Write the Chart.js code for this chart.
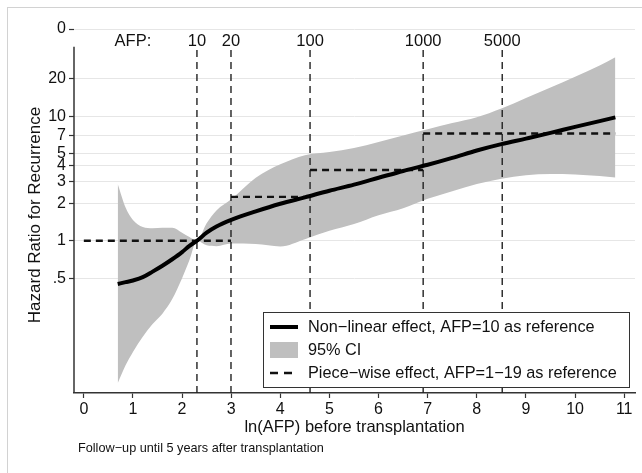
<!DOCTYPE html>
<html><head><meta charset="utf-8">
<script src="https://cdn.jsdelivr.net/npm/chart.js@4"></script>
<style>
html,body{margin:0;padding:0;background:#fff;}
#wrap{position:relative;width:642px;height:473px;overflow:hidden;}
#frame{position:absolute;left:7px;top:7px;width:700px;height:600px;border:1px solid #d2d2d2;pointer-events:none;}
canvas{display:block;}
</style></head><body>
<div id="wrap"><canvas id="c" width="642" height="473"></canvas><div id="frame"></div></div>
<script>
// ---- data ----
const lnAFP   = [0.69,0.85,1.0,1.2,1.4,1.6,1.8,2.0,2.15,2.303,2.5,2.7,3.0,3.5,4.0,4.5,5.0,5.5,6.0,6.5,7.0,7.5,8.0,8.5,9.0,9.5,10.0,10.5,10.82];
const hrCurve = [0.45,0.465,0.48,0.51,0.565,0.63,0.71,0.81,0.91,1.0,1.16,1.3,1.47,1.72,1.98,2.23,2.52,2.82,3.2,3.63,4.07,4.62,5.3,5.96,6.6,7.33,8.2,9.12,9.77];
const ciUpper = [2.85,1.85,1.47,1.29,1.26,1.27,1.27,1.16,1.07,1.0,1.38,1.75,2.15,3.2,4.1,4.85,5.15,5.55,6.2,7.0,7.85,8.8,9.8,11.5,14.0,17.0,20.7,25.5,29.7];
const ciLower = [0.072,0.1,0.128,0.17,0.215,0.26,0.34,0.5,0.7,1.0,0.92,0.905,0.95,0.94,0.9,1.03,1.2,1.36,1.6,1.82,2.17,2.5,2.85,3.15,3.35,3.43,3.4,3.3,3.22];
const pieceBreaks = [0, Math.log(20), Math.log(100), Math.log(1000), 10.82];
const pieceHR     = [1, 2.25, 3.69, 7.26];
const afpMarks    = [10, 20, 100, 1000, 5000];
const xTicks      = [0,1,2,3,4,5,6,7,8,9,10,11];
const yTicks      = [50,20,10,7,5,4,3,2,1,0.5];
const yTickLabels = ['0','20','10','7','5','4','3','2','1','.5'];
const legendLabels = ['Non\u2212linear effect, AFP=10 as reference','95% CI','Piece\u2212wise effect, AFP=1\u221219 as reference'];
const xTitle = 'ln(AFP) before transplantation';
const yTitle = 'Hazard Ratio for Recurrence';
const noteText = 'Follow\u2212up until 5 years after transplantation';
const afpPrefix = 'AFP:';
const Y_MIN = 0.06, Y_MAX = 50, VLINE_TOP = 36, X_MIN = -0.2, X_MAX = 11.22, AFP_PREFIX_X = 1.0;

const FONT = '"Liberation Sans", Arial, Helvetica, sans-serif';
const pts = ys => lnAFP.map((x,i)=>({x, y: ys[i]}));

const datasets = [];
datasets.push({label:'upper', data: pts(ciUpper), borderWidth:0, pointRadius:0, backgroundColor:'#bfbfbf', fill:'+1', tension:0.4, cubicInterpolationMode:'monotone', order:10});
datasets.push({label:'lower', data: pts(ciLower), borderWidth:0, pointRadius:0, backgroundColor:'#bfbfbf', fill:false, tension:0.4, cubicInterpolationMode:'monotone', order:9});
afpMarks.forEach(v=>{
  datasets.push({label:'v'+v, data:[{x:Math.log(v), y:Y_MIN},{x:Math.log(v), y:VLINE_TOP}], borderColor:'#222', borderWidth:1.4, borderDash:[7,5], pointRadius:0, fill:false, order:8});
});
pieceHR.forEach((h,i)=>{
  datasets.push({label:'p'+i, data:[{x:pieceBreaks[i], y:h},{x:pieceBreaks[i+1], y:h}], borderColor:'#111', borderWidth:2.4, borderDash:[7,5], pointRadius:0, fill:false, order:3});
});
datasets.push({label:'curve', data: pts(hrCurve), borderColor:'#000', borderWidth:4, pointRadius:0, fill:false, tension:0.4, cubicInterpolationMode:'monotone', order:1});

const textPlugin = {
  id:'texts',
  afterDraw(chart){
    const ctx = chart.ctx, ca = chart.chartArea, xs = chart.scales.x, ys = chart.scales.y;
    ctx.save();
    // y axis line
    ctx.strokeStyle = '#333'; ctx.lineWidth = 1.5;
    ctx.beginPath();
    ctx.moveTo(ca.left, ys.getPixelForValue(VLINE_TOP));
    ctx.lineTo(ca.left, ca.bottom);
    ctx.stroke();
    // AFP labels
    ctx.fillStyle = '#111';
    ctx.font = '16.5px ' + FONT;
    ctx.textAlign = 'center'; ctx.textBaseline = 'middle';
    const ly = (ys.getPixelForValue(VLINE_TOP) + ca.top) / 2 + 4;
    ctx.fillText(afpPrefix, xs.getPixelForValue(AFP_PREFIX_X), ly);
    afpMarks.forEach(v=> ctx.fillText(String(v), xs.getPixelForValue(Math.log(v)), ly));
    // axis titles
    ctx.font = '16.5px ' + FONT;
    ctx.fillText(xTitle, (ca.left+ca.right)/2, ca.bottom + 34);
    ctx.save();
    ctx.font = '17px ' + FONT;
    ctx.translate(35, (ca.top+ca.bottom)/2 + 4);
    ctx.rotate(-Math.PI/2);
    ctx.fillText(yTitle, 0, 0);
    ctx.restore();
    // note
    ctx.font = '12.7px ' + FONT;
    ctx.textAlign = 'left';
    ctx.fillText(noteText, ca.left + 4, ca.bottom + 55);
    // legend
    const bw = 366, bh = 75;
    const bx = ca.right - 6 - bw, by = ca.bottom - 6 - bh;
    ctx.fillStyle = '#fff';
    ctx.fillRect(bx, by, bw, bh);
    ctx.strokeStyle = '#333'; ctx.lineWidth = 1;
    ctx.strokeRect(bx+0.5, by+0.5, bw, bh);
    const rows = [15, 38, 61];
    const sx0 = bx + 7, sx1 = bx + 35;
    ctx.strokeStyle = '#000'; ctx.lineWidth = 4; ctx.setLineDash([]);
    ctx.beginPath(); ctx.moveTo(sx0, by+rows[0]); ctx.lineTo(sx1, by+rows[0]); ctx.stroke();
    ctx.fillStyle = '#bfbfbf';
    ctx.fillRect(sx0, by+rows[1]-8, sx1-sx0, 16);
    ctx.strokeStyle = '#111'; ctx.lineWidth = 2.4; ctx.setLineDash([8,6]);
    ctx.beginPath(); ctx.moveTo(sx0, by+rows[2]); ctx.lineTo(sx1, by+rows[2]); ctx.stroke();
    ctx.setLineDash([]);
    ctx.fillStyle = '#111';
    ctx.font = '16.3px ' + FONT;
    ctx.textAlign = 'left'; ctx.textBaseline = 'middle';
    legendLabels.forEach((t,i)=> ctx.fillText(t, bx + 45, by + rows[i] + 1));
    ctx.restore();
  }
};

new Chart(document.getElementById('c'), {
  type:'line',
  data:{datasets},
  options:{
    responsive:false, animation:false, devicePixelRatio:1,
    layout:{padding:{top:29, right:7, left:0, bottom:0}},
    plugins:{legend:{display:false}, tooltip:{enabled:false}},
    scales:{
      x:{type:'linear', min:X_MIN, max:X_MAX,
        afterBuildTicks: s=>{ s.ticks = xTicks.map(v=>({value:v})); },
        afterFit: s=>{ s.height = 80; },
        grid:{drawOnChartArea:false, drawTicks:true, tickLength:5, tickColor:'#333', tickWidth:1.2},
        border:{display:true, color:'#333', width:1.5},
        ticks:{autoSkip:false, maxRotation:0, padding:2, color:'#111', font:{family:FONT, size:16}}
      },
      y:{type:'logarithmic', min:Y_MIN, max:Y_MAX,
        afterBuildTicks: s=>{ s.ticks = yTicks.map(v=>({value:v})); },
        afterFit: s=>{ s.width = 74; },
        grid:{color:'#e6e6e6', lineWidth:1, drawTicks:true, tickLength:5, tickColor:'#333', tickWidth:1.2},
        border:{display:false},
        ticks:{autoSkip:false, padding:3, color:'#111', font:{family:FONT, size:16}},
        afterTickToLabelConversion: s=>{ s.ticks.forEach(t=>{ const i = yTicks.indexOf(t.value); t.label = i>=0 ? yTickLabels[i] : ''; }); }
      }
    }
  },
  plugins:[textPlugin]
});
</script>
</body></html>
